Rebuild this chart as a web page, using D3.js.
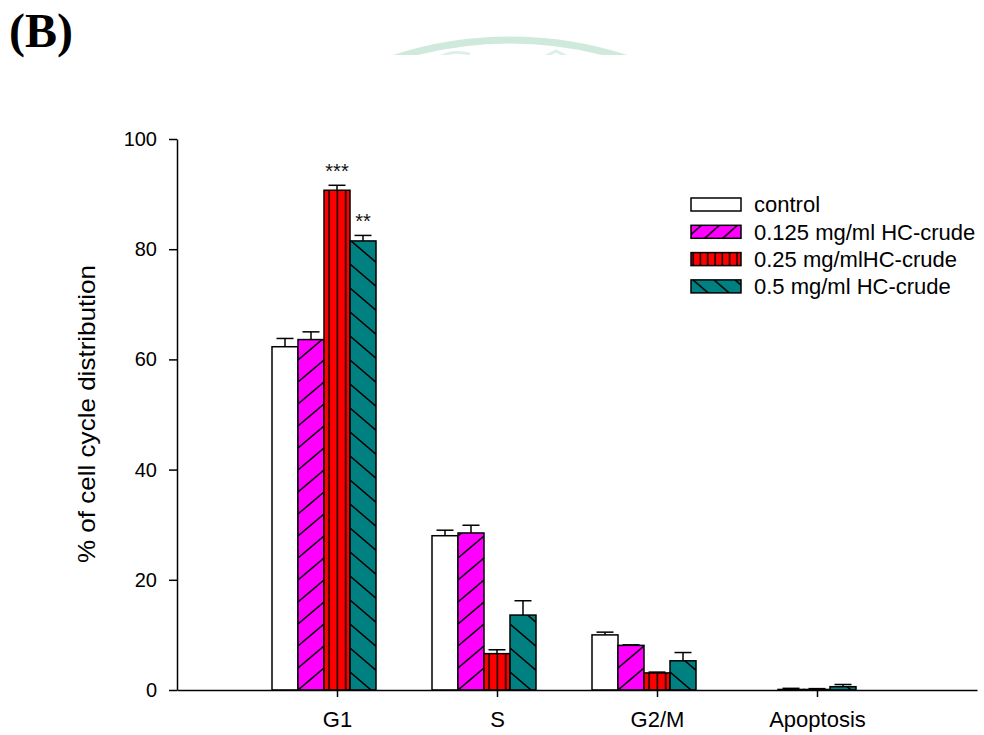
<!DOCTYPE html>
<html><head><meta charset="utf-8">
<script src="https://cdn.jsdelivr.net/npm/d3@7"></script>
<style>body{margin:0;background:#fff} svg{display:block}</style>
</head><body><svg id="c" width="984" height="735"></svg>
<script>
const categories = ["G1", "S", "G2/M", "Apoptosis"];
const seriesNames = ["control", "0.125 mg/ml HC-crude", "0.25 mg/mlHC-crude", "0.5 mg/ml HC-crude"];
const controlValues = [62.3, 28.0, 10.0, 0.0];
const controlErrors = [1.5, 1.0, 0.5, 0.0];
const low125Values = [63.6, 28.5, 8.1, 0.1];
const low125Errors = [1.4, 1.4, 0.1, 0.2];
const mid25Values = [90.7, 6.6, 3.1, 0.1];
const mid25Errors = [0.9, 0.7, 0.15, 0.15];
const high5Values = [81.5, 13.6, 5.3, 0.6];
const high5Errors = [1.0, 2.6, 1.5, 0.4];
const yTicks = [0, 20, 40, 60, 80, 100];
const annotations = [{cat: "G1", series: 2, text: "***"}, {cat: "G1", series: 3, text: "**"}];

const seriesValues = [controlValues, low125Values, mid25Values, high5Values];
const seriesErrors = [controlErrors, low125Errors, mid25Errors, high5Errors];
const fills = ["#ffffff", "#ff00ff", "#ff0000", "#008080"];
const hatch = ["none", "fwd", "vert", "back"];
const FONT = "'Liberation Sans', Arial, Helvetica, sans-serif";

const svg = d3.select("#c");
const defs = svg.append("defs");

// watermark remnant (faint arc, clipped)
defs.append("clipPath").attr("id", "wmclip").append("rect")
  .attr("x", 300).attr("y", 0).attr("width", 400).attr("height", 55);
const wm = svg.append("g").attr("clip-path", "url(#wmclip)");
const wp = d3.path();
wp.arc(510, 416, 376, -Math.PI / 2 - 0.37, -Math.PI / 2 + 0.37);
wm.append("path").attr("d", wp.toString()).attr("fill", "none")
  .attr("stroke", "#cfeadc").attr("stroke-width", 7);
wm.append("path").attr("d", "M442,56 Q452,50 470,54").attr("fill", "none").attr("stroke", "#dcf0e5").attr("stroke-width", 3);
wm.append("path").attr("d", "M546,56 L556,51 L566,56").attr("fill", "none").attr("stroke", "#dcf0e5").attr("stroke-width", 3);

// panel letter
svg.append("text").attr("x", 9).attr("y", 47)
  .attr("font-family", "'Liberation Serif', 'Times New Roman', serif")
  .attr("font-weight", "bold").attr("font-size", 48).text("(B)");

const y = d3.scaleLinear().domain([0, 100]).range([690, 139]);
const x0 = d3.scalePoint().domain(categories).range([177, 977]).padding(1);
const x1 = d3.scaleBand().domain(d3.range(seriesNames.length)).range([-65, 39]);

function makePattern(id, kind, ox, oy, w, h, fill) {
  const p = defs.append("pattern").attr("id", id).attr("patternUnits", "userSpaceOnUse")
    .attr("x", ox).attr("y", oy).attr("width", w).attr("height", h);
  p.append("rect").attr("width", w).attr("height", h).attr("fill", fill);
  let lines = [];
  if (kind === "fwd") lines = [[0, h, w, 0], [-w, h, 0, 0], [w, h, 2 * w, 0]];
  if (kind === "back") lines = [[0, 0, w, h], [-w, 0, 0, h], [w, 0, 2 * w, h]];
  if (kind === "vert") lines = [[w - 1.6, 0, w - 1.6, h]];
  lines.forEach(l => {
    p.append("line").attr("x1", l[0]).attr("y1", l[1]).attr("x2", l[2]).attr("y2", l[3])
      .attr("stroke", "#000").attr("stroke-width", 1.5);
  });
}

const bars = [];
categories.forEach((c, ci) => {
  seriesNames.forEach((s, si) => {
    bars.push({c, ci, si, v: seriesValues[si][ci], e: seriesErrors[si][ci]});
  });
});

const barW = x1.bandwidth();
const gBars = svg.append("g");
bars.forEach(b => {
  const bx = x0(b.c) + x1(b.si);
  let fill = fills[b.si];
  if (hatch[b.si] !== "none") {
    const id = `p${b.si}_${b.ci}`;
    if (hatch[b.si] === "fwd") makePattern(id, "fwd", bx, y(0), 26, 22, fills[b.si]);
    if (hatch[b.si] === "back") makePattern(id, "back", bx, y(0) + 6, 28, 24, fills[b.si]);
    if (hatch[b.si] === "vert") makePattern(id, "vert", bx - 1.6, 0, barW / 3.12, 20, fills[b.si]);
    fill = `url(#${id})`;
  }
  const top = y(b.v);
  if (b.v > 0) {
    gBars.append("rect").attr("x", bx).attr("y", top).attr("width", barW)
      .attr("height", y(0) - top).attr("fill", fill)
      .attr("stroke", "#000").attr("stroke-width", 1.5);
  }
  if (b.e > 0) {
    const cx = bx + barW / 2, ye = y(b.v + b.e);
    gBars.append("line").attr("x1", cx).attr("x2", cx).attr("y1", top).attr("y2", ye)
      .attr("stroke", "#000").attr("stroke-width", 1.5);
    gBars.append("line").attr("x1", cx - 8.5).attr("x2", cx + 8.5).attr("y1", ye).attr("y2", ye)
      .attr("stroke", "#000").attr("stroke-width", 1.5);
  }
});

annotations.forEach(a => {
  const ci = categories.indexOf(a.cat);
  const v = seriesValues[a.series][ci] + seriesErrors[a.series][ci];
  svg.append("text").attr("x", x0(a.cat) + x1(a.series) + barW / 2).attr("y", y(v) - 7)
    .attr("text-anchor", "middle").attr("font-family", FONT).attr("font-size", 20)
    .attr("fill", "#111").text(a.text);
});

// axes
const yAxis = svg.append("g").attr("transform", "translate(177,0)")
  .call(d3.axisLeft(y).tickValues(yTicks).tickSize(8).tickSizeOuter(0).tickPadding(12).tickFormat(d3.format("d")));
const xAxis = svg.append("g").attr("transform", "translate(0,690)")
  .call(d3.axisBottom(x0).tickSize(7).tickSizeOuter(0).tickPadding(14));
[yAxis, xAxis].forEach(g => {
  g.selectAll("path,line").attr("stroke", "#000").attr("stroke-width", 1.5);
  g.selectAll("text").attr("font-family", FONT).attr("font-size", 20).attr("fill", "#000");
});
xAxis.selectAll("text").attr("font-size", 22);

svg.append("text").attr("transform", "translate(95,414) rotate(-90)")
  .attr("text-anchor", "middle").attr("font-family", FONT).attr("font-size", 24)
  .attr("textLength", 298).attr("lengthAdjust", "spacingAndGlyphs")
  .text("% of cell cycle distribution");

// legend
const lg = svg.append("g").attr("transform", "translate(691,198)");
seriesNames.forEach((s, i) => {
  const ty = i * 27.3;
  let fill = fills[i];
  if (hatch[i] !== "none") {
    const id = `lp${i}`;
    if (hatch[i] === "fwd") makePattern(id, "fwd", 691, 198 + ty + 13, 18, 16, fills[i]);
    if (hatch[i] === "back") makePattern(id, "back", 691 + 4, 198 + ty, 21, 18, fills[i]);
    if (hatch[i] === "vert") makePattern(id, "vert", 691 - 1, 0, 7.3, 20, fills[i]);
    fill = `url(#${id})`;
  }
  lg.append("rect").attr("x", 0).attr("y", ty).attr("width", 50).attr("height", 13)
    .attr("fill", fill).attr("stroke", "#000").attr("stroke-width", 1.5);
  lg.append("text").attr("x", 63).attr("y", ty + 6.5).attr("dy", "0.36em")
    .attr("font-family", FONT).attr("font-size", 22).text(s);
});
</script></body></html>
